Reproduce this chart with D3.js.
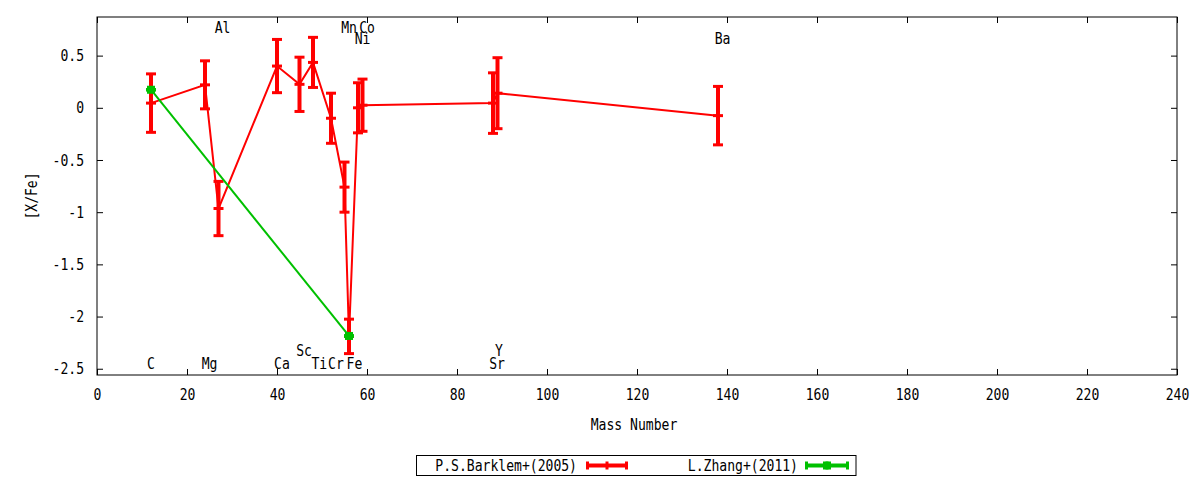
<!DOCTYPE html>
<html>
<head>
<meta charset="utf-8">
<script src="https://cdn.jsdelivr.net/npm/d3@7"></script>
<style>
    body { margin: 0; background: #fff; }
    svg { display: block; }
    text { font-family: "DejaVu Sans Mono", monospace; font-size: 16px; fill: #000; }
</style>
</head>
<body>
<script>
document.addEventListener('DOMContentLoaded', init);

// P.S.Barklem+(2005)
var elements = ["C", "Mg", "Al", "Ca", "Sc", "Ti", "Cr", "Mn", "Fe", "Ni", "Co", "Sr", "Y", "Ba"];
var massNumbers = [12, 24, 27, 40, 45, 48, 52, 55, 56, 58, 59, 88, 89, 138];
var barklemValues = [0.045, 0.22, -0.965, 0.40, 0.225, 0.435, -0.10, -0.76, -2.19, 0.0, 0.025, 0.045, 0.14, -0.075];
var barklemErrors = [0.28, 0.23, 0.26, 0.255, 0.26, 0.24, 0.24, 0.24, 0.165, 0.24, 0.25, 0.29, 0.34, 0.28];

// L.Zhang+(2011)
var zhangMass = [12, 56];
var zhangValues = [0.173, -2.186];
var zhangErrors = [0, 0];

// element labels (mass position, [X/Fe] position)
var labelX = [12, 25, 27.9, 41.1, 46, 49.4, 53.1, 56, 57.2, 59, 60, 88.9, 89.3, 139];
var labelY = [-2.45, -2.45, 0.77, -2.45, -2.32, -2.45, -2.45, 0.77, -2.45, 0.67, 0.77, -2.45, -2.32, 0.67];

var xTicks = [0, 20, 40, 60, 80, 100, 120, 140, 160, 180, 200, 220, 240];
var yTicks = [-2.5, -2, -1.5, -1, -0.5, 0, 0.5];
var legendLabels = ["P.S.Barklem+(2005)", "L.Zhang+(2011)"];

var red = "#ff0000";
var green = "#00c000";
var charWidth = 7.87;

function init() {
    let svg = d3.select("body")
        .append("svg")
        .attr("width", 1200)
        .attr("height", 480);

    let x = d3.scaleLinear().domain([0, 240]).range([97, 1177]);
    let y = d3.scaleLinear().domain([-2.56, 0.87]).range([375, 17]);

    drawAxes(svg, x, y);

    let barklem = massNumbers.map((m, i) => ({ m: m, v: barklemValues[i], e: barklemErrors[i] }));
    let zhang = zhangMass.map((m, i) => ({ m: m, v: zhangValues[i], e: zhangErrors[i] }));

    drawSeries(svg, x, y, barklem, red, false);
    drawSeries(svg, x, y, zhang, green, true);

    // element labels
    svg.append("g")
        .selectAll("text")
        .data(elements)
        .enter()
        .append("text")
        .attr("x", (d, i) => x(labelX[i]))
        .attr("y", (d, i) => y(labelY[i]))
        .attr("dy", "0.36em")
        .attr("text-anchor", "middle")
        .text(d => d);

    drawLegend(svg);

    // gnuplot's font is narrow: squeeze every text to its cell width
    svg.selectAll("text").each(function() {
        let t = d3.select(this);
        let s = t.text();
        if (s.length) {
            t.attr("textLength", s.length * charWidth).attr("lengthAdjust", "spacingAndGlyphs");
        }
    });
}

function drawAxes(svg, x, y) {
    let fmt = d => String(d);

    svg.append("g")
        .attr("transform", "translate(0,375)")
        .call(d3.axisBottom(x).tickValues(xTicks).tickFormat(fmt).tickSizeInner(-6).tickSizeOuter(0).tickPadding(14));
    svg.append("g")
        .attr("transform", "translate(0,17)")
        .call(d3.axisTop(x).tickValues(xTicks).tickFormat("").tickSizeInner(-6).tickSizeOuter(0));
    svg.append("g")
        .attr("transform", "translate(97,0)")
        .call(d3.axisLeft(y).tickValues(yTicks).tickFormat(fmt).tickSizeInner(-6).tickSizeOuter(0).tickPadding(13));
    svg.append("g")
        .attr("transform", "translate(1177,0)")
        .call(d3.axisRight(y).tickValues(yTicks).tickFormat("").tickSizeInner(-6).tickSizeOuter(0));

    svg.selectAll(".domain").remove();
    svg.selectAll(".tick line").attr("stroke", "#000");
    svg.selectAll(".tick text").attr("font-family", null).attr("font-size", null).attr("fill", "#000");

    // plot border
    svg.append("rect")
        .attr("x", 97)
        .attr("y", 17)
        .attr("width", 1080)
        .attr("height", 358)
        .attr("fill", "none")
        .attr("stroke", "#000");

    svg.append("text")
        .attr("x", 634)
        .attr("y", 430)
        .attr("text-anchor", "middle")
        .text("Mass Number");

    svg.append("text")
        .attr("transform", "translate(37,196) rotate(-90)")
        .attr("text-anchor", "middle")
        .text("[X/Fe]");
}

function drawSeries(svg, x, y, data, color, square) {
    let g = svg.append("g");

    g.append("path")
        .datum(data)
        .attr("fill", "none")
        .attr("stroke", color)
        .attr("stroke-width", 2)
        .attr("d", d3.line().x(d => x(d.m)).y(d => y(d.v)));

    // vertical bars
    g.selectAll(".bar")
        .data(data)
        .enter()
        .append("line")
        .attr("x1", d => x(d.m))
        .attr("x2", d => x(d.m))
        .attr("y1", d => y(d.v - d.e))
        .attr("y2", d => y(d.v + d.e))
        .attr("stroke", color)
        .attr("stroke-width", 4);

    // caps and centre tick
    ["lo", "mid", "hi"].forEach(k => {
        g.selectAll(".cap-" + k)
            .data(data)
            .enter()
            .append("line")
            .attr("x1", d => x(d.m) - 5)
            .attr("x2", d => x(d.m) + 5)
            .attr("y1", d => y(k == "lo" ? d.v - d.e : k == "hi" ? d.v + d.e : d.v))
            .attr("y2", d => y(k == "lo" ? d.v - d.e : k == "hi" ? d.v + d.e : d.v))
            .attr("stroke", color)
            .attr("stroke-width", 3);
    });

    if (square) {
        g.selectAll(".pt")
            .data(data)
            .enter()
            .append("rect")
            .attr("x", d => x(d.m) - 4)
            .attr("y", d => y(d.v) - 4)
            .attr("width", 8)
            .attr("height", 8)
            .attr("fill", color);
    }
}

function drawLegend(svg) {
    let colors = [red, green];
    let textEnd = [577, 798];
    let sampleStart = [586, 805];
    let sampleEnd = [628, 849];

    svg.append("rect")
        .attr("x", 416.5)
        .attr("y", 455.5)
        .attr("width", 439.5)
        .attr("height", 20)
        .attr("fill", "none")
        .attr("stroke", "#000");

    legendLabels.forEach((label, i) => {
        let cy = 465.5;
        let mid = (sampleStart[i] + sampleEnd[i]) / 2;
        svg.append("text")
            .attr("x", textEnd[i])
            .attr("y", cy)
            .attr("dy", "0.36em")
            .attr("text-anchor", "end")
            .text(label);
        svg.append("line")
            .attr("x1", sampleStart[i]).attr("x2", sampleEnd[i])
            .attr("y1", cy).attr("y2", cy)
            .attr("stroke", colors[i]).attr("stroke-width", 4);
        [sampleStart[i] + 1.5, mid, sampleEnd[i] - 1.5].forEach(px => {
            svg.append("line")
                .attr("x1", px).attr("x2", px)
                .attr("y1", cy - 4).attr("y2", cy + 4)
                .attr("stroke", colors[i]).attr("stroke-width", 3);
        });
        if (i == 1) {
            svg.append("rect")
                .attr("x", mid - 4).attr("y", cy - 4)
                .attr("width", 8).attr("height", 8)
                .attr("fill", colors[i]);
        }
    });
}
</script>
</body>
</html>
